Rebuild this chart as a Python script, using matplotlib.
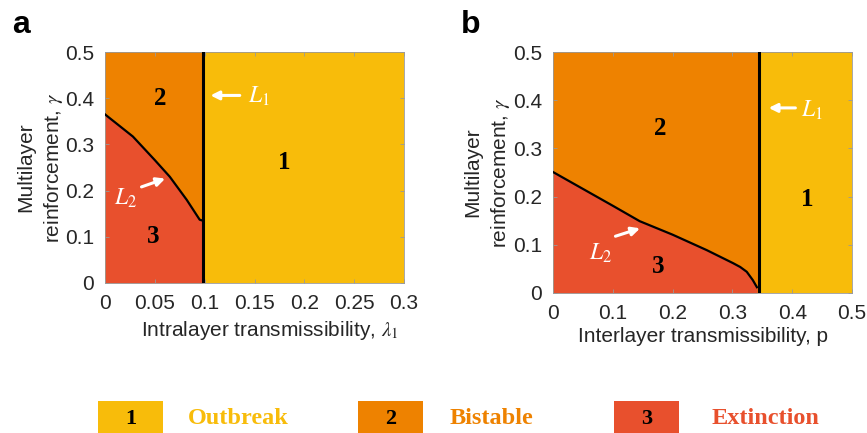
import matplotlib
matplotlib.use("Agg")
import matplotlib.pyplot as plt
from matplotlib.patches import Rectangle
from matplotlib.ticker import FuncFormatter

plt.rcParams['font.family'] = ['Liberation Sans', 'DejaVu Sans']
plt.rcParams['mathtext.fontset'] = 'stix'

# ---- data ----
c_out = '#F8BC0A'
c_bis = '#EE8200'
c_ext = '#E8502D'

# panel a
a_L1 = 0.098
a_l2_x = [0, 0.028, 0.050, 0.065, 0.082, 0.095, 0.098]
a_l2_y = [0.365, 0.317, 0.266, 0.230, 0.180, 0.137, 0.135]
a_xticks = [0, 0.05, 0.1, 0.15, 0.2, 0.25, 0.3]

# panel b
b_L1 = 0.344
b_l2_x = [0, 0.05, 0.1, 0.145, 0.2, 0.257, 0.301, 0.313, 0.324, 0.334, 0.341]
b_l2_y = [0.251, 0.216, 0.181, 0.149, 0.121, 0.089, 0.062, 0.054, 0.044, 0.027, 0.012]
b_xticks = [0, 0.1, 0.2, 0.3, 0.4, 0.5]

yticks = [0, 0.1, 0.2, 0.3, 0.4, 0.5]
legend_labels = ['Outbreak', 'Bistable', 'Extinction']
legend_nums = ['1', '2', '3']

fig = plt.figure(figsize=(8.67, 4.33), dpi=100)

fmt = FuncFormatter(lambda v, p: '%g' % round(v, 4))
tcol = '#262626'

def style(ax, xmax, xticks, lx):
    ax.set_xlim(0, xmax)
    ax.set_ylim(0, 0.5)
    ax.set_xticks(xticks)
    ax.set_yticks(yticks)
    ax.xaxis.set_major_formatter(fmt)
    ax.yaxis.set_major_formatter(fmt)
    ax.tick_params(direction='in', length=3, width=0.6, color='#999999',
                   top=True, right=True, labelsize=15, labelcolor=tcol, pad=8)
    for s in ax.spines.values():
        s.set_color('#999999')
        s.set_linewidth(0.6)
    ax.set_ylabel('Multilayer\nreinforcement, $\\gamma$', fontsize=15, color=tcol,
                  linespacing=1.4)
    ax.yaxis.set_label_coords(lx, 0.5)

def region(ax, L1, xmax, lx, ly):
    ax.axvspan(0, L1, color=c_bis, lw=0, zorder=0)
    ax.axvspan(L1, xmax, color=c_out, lw=0, zorder=0)
    ax.fill_between(lx, 0, ly, color=c_ext, lw=0, zorder=1)
    ax.plot(lx, ly, color='black', lw=1.6, zorder=3)
    ax.axvline(L1, color='black', lw=2.2, zorder=3)

txtkw = dict(fontfamily='Liberation Serif', fontweight='bold', fontsize=18,
             ha='center', va='center', color='black', zorder=4)
arrkw = dict(arrowstyle='-|>,head_length=0.5,head_width=0.25', color='white', lw=2.2)

# panel a
axa = fig.add_axes([105/867, 1-283/433, 299/867, 231/433])
region(axa, a_L1, 0.3, a_l2_x, a_l2_y)
style(axa, 0.3, a_xticks, -0.134)
axa.set_xlabel('Intralayer transmissibility, $\\lambda_1$', fontsize=15, color=tcol, labelpad=3)
axa.xaxis.set_label_coords(0.55, -0.155)
axa.xaxis.label.set_va('top')
axa.text(0.055, 0.40, '2', **txtkw)
axa.text(0.18, 0.26, '1', **txtkw)
axa.text(0.048, 0.10, '3', **txtkw)
axa.annotate('', xy=(0.103, 0.406), xytext=(0.138, 0.406), arrowprops=arrkw, zorder=5)
axa.text(0.143, 0.403, '$L_1$', color='white', fontsize=17, ha='left', va='center')
axa.annotate('', xy=(0.063, 0.228), xytext=(0.034, 0.206), arrowprops=arrkw, zorder=5)
axa.text(0.021, 0.184, '$L_2$', color='white', fontsize=17, ha='center', va='center')

# panel b
axb = fig.add_axes([553/867, 1-293/433, 299/867, 241/433])
region(axb, b_L1, 0.5, b_l2_x, b_l2_y)
style(axb, 0.5, b_xticks, -0.137)
axb.set_xlabel('Interlayer transmissibility, p', fontsize=15, color=tcol, labelpad=3)
axb.text(0.179, 0.342, '2', **txtkw)
axb.text(0.425, 0.193, '1', **txtkw)
axb.text(0.176, 0.054, '3', **txtkw)
axb.annotate('', xy=(0.356, 0.384), xytext=(0.41, 0.384), arrowprops=arrkw, zorder=5)
axb.text(0.415, 0.378, '$L_1$', color='white', fontsize=17, ha='left', va='center')
axb.annotate('', xy=(0.15, 0.136), xytext=(0.10, 0.116), arrowprops=arrkw, zorder=5)
axb.text(0.08, 0.083, '$L_2$', color='white', fontsize=17, ha='center', va='center')

# panel letters
fig.text(12/867, 1-33/433, 'a', fontsize=23, fontweight='bold', va='baseline', ha='left')
fig.text(461/867, 1-33/433, 'b', fontsize=23, fontweight='bold', va='baseline', ha='left')

# legend
box_x = [98, 358, 614]
text_x = [188, 450, 712]
cols = [c_out, c_bis, c_ext]
for bx, tx, c, lab, n in zip(box_x, text_x, cols, legend_labels, legend_nums):
    fig.patches.append(Rectangle((bx/867, 0), 65/867, 32/433, transform=fig.transFigure,
                                 facecolor=c, edgecolor='none'))
    fig.text((bx+32.5)/867, 1-419/433, n, fontfamily='Liberation Serif', fontweight='bold',
             fontsize=16, ha='center', va='center')
    fig.text(tx/867, 1-419/433, lab, fontfamily='Liberation Serif', fontweight='bold',
             fontsize=17.5, ha='left', va='center', color=c)

fig.savefig('out.png', dpi=100)
